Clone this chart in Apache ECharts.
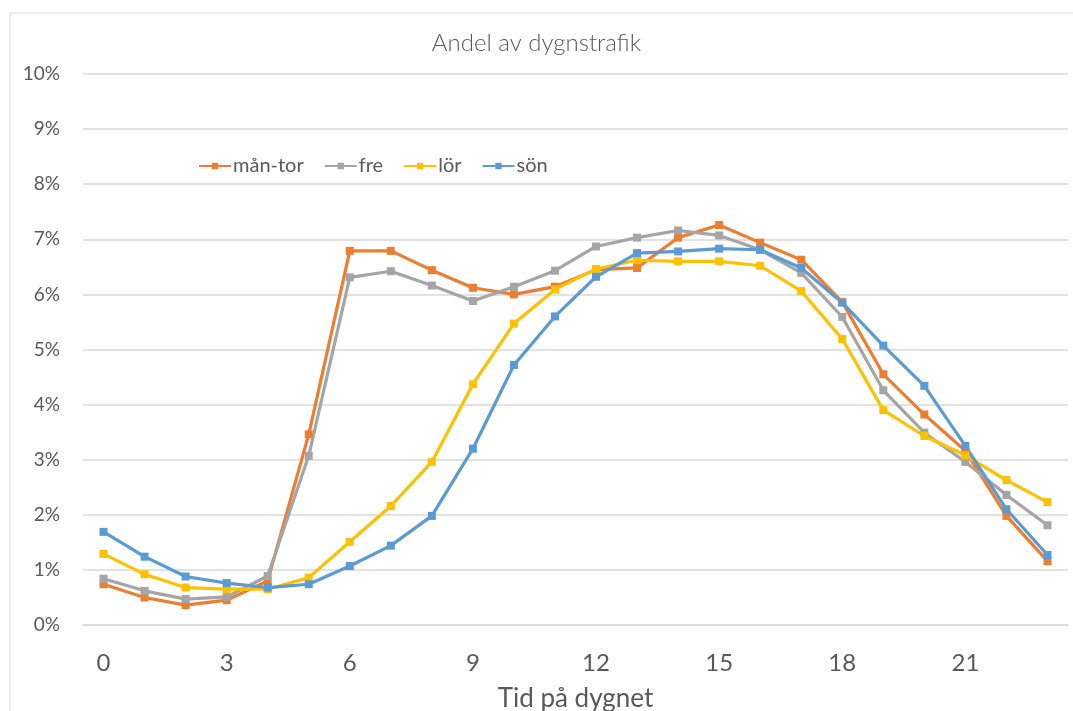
<!DOCTYPE html>
<html>
<head>
<meta charset="utf-8">
<script src="https://cdn.jsdelivr.net/npm/echarts@6/dist/echarts.min.js"></script>
<style>
html,body{margin:0;padding:0;background:#fff;}
#chart{width:1073px;height:711px;}
</style>
</head>
<body>
<div id="chart"></div>
<script>
const hours = ['0','1','2','3','4','5','6','7','8','9','10','11','12','13','14','15','16','17','18','19','20','21','22','23'];
const manTor = [0.74,0.50,0.36,0.45,0.80,3.46,6.79,6.79,6.44,6.12,6.00,6.14,6.45,6.48,7.03,7.26,6.94,6.63,5.86,4.55,3.82,3.16,1.98,1.16];
const fre    = [0.84,0.62,0.47,0.51,0.89,3.07,6.31,6.42,6.16,5.88,6.14,6.43,6.87,7.03,7.16,7.07,6.81,6.39,5.59,4.26,3.49,2.96,2.36,1.81];
const lor    = [1.29,0.92,0.68,0.65,0.65,0.86,1.51,2.16,2.96,4.37,5.47,6.09,6.46,6.62,6.60,6.60,6.52,6.06,5.19,3.90,3.43,3.08,2.63,2.23];
const son    = [1.69,1.24,0.88,0.76,0.68,0.74,1.07,1.44,1.98,3.20,4.72,5.60,6.32,6.75,6.78,6.83,6.81,6.48,5.85,5.07,4.34,3.25,2.10,1.27];
const seriesNames = ['mån-tor','fre','lör','sön'];
const colors = ['#ED7D31','#A5A5A5','#FFC000','#5B9BD5'];

const font = 'Lato, sans-serif';
const chart = echarts.init(document.getElementById('chart'), null, {renderer:'canvas'});
const data = [manTor, fre, lor, son];
chart.setOption({
  animation: false,
  color: colors,
  title: {
    text: 'Andel av dygnstrafik',
    left: 'center',
    top: 26,
    textStyle: {fontFamily: font, fontSize: 24, fontWeight: 300, color: '#595959'}
  },
  graphic: [{
    type: 'rect',
    shape: {x: 10, y: 13, width: 1080, height: 720},
    style: {fill: 'none', stroke: '#d9d9d9', lineWidth: 1},
    silent: true
  }],
  legend: {
    left: 193,
    top: 151,
    itemGap: 20,
    itemWidth: 32,
    itemHeight: 8,
    textStyle: {fontFamily: font, fontSize: 20, color: '#595959', padding: [0,0,0,-3]},
    data: seriesNames
  },
  grid: {left: 83, right: 5, top: 74, bottom: 86, containLabel: false, outerBoundsMode: 'none'},
  xAxis: {
    type: 'category',
    data: hours,
    boundaryGap: true,
    axisTick: {show: false},
    axisLine: {lineStyle: {color: '#d9d9d9', width: 1.5}},
    axisLabel: {interval: 2, fontFamily: font, fontSize: 24, color: '#595959', margin: 26},
    name: 'Tid på dygnet',
    nameLocation: 'middle',
    nameGap: 61,
    nameTextStyle: {fontFamily: font, fontSize: 26, color: '#595959'}
  },
  yAxis: {
    type: 'value',
    min: 0,
    max: 10,
    interval: 1,
    axisLine: {show: false},
    axisTick: {show: false},
    splitLine: {lineStyle: {color: '#d9d9d9', width: 1.5}},
    axisLabel: {formatter: '{value}%', fontFamily: font, fontSize: 19, color: '#595959', margin: 23}
  },
  series: seriesNames.map((n, i) => ({
    name: n,
    type: 'line',
    data: data[i],
    symbol: 'rect',
    symbolSize: 8,
    lineStyle: {width: 3.2, color: colors[i]},
    itemStyle: {color: colors[i]}
  }))
});
</script>
</body>
</html>
